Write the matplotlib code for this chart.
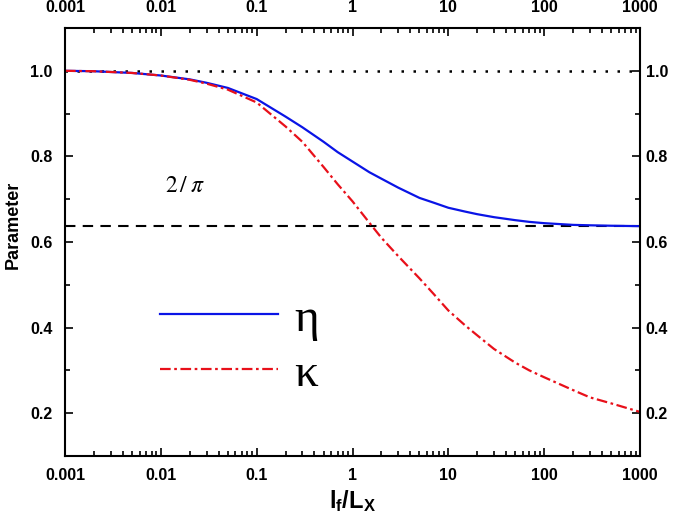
import numpy as np
import matplotlib
matplotlib.use('Agg')
import matplotlib.pyplot as plt
from matplotlib.ticker import FixedLocator, FixedFormatter, MultipleLocator, LogLocator, NullFormatter

# === Data ===
lf_Lx = [0.001, 0.002, 0.005, 0.01, 0.02, 0.03, 0.05, 0.1, 0.2, 0.3, 0.5, 0.7,
         1, 1.5, 2, 3, 5, 7, 10, 15, 20, 30, 50, 70, 100, 200, 300, 500, 1000]
eta = [1.0, 0.999, 0.995, 0.989, 0.980, 0.972, 0.960, 0.934, 0.893, 0.868,
       0.834, 0.810, 0.788, 0.763, 0.748, 0.727, 0.703, 0.692, 0.680, 0.671,
       0.665, 0.658, 0.651, 0.647, 0.644, 0.640, 0.639, 0.638, 0.637]
kappa = [1.0, 0.999, 0.995, 0.989, 0.979, 0.970, 0.956, 0.926, 0.870, 0.834,
         0.775, 0.735, 0.695, 0.645, 0.610, 0.567, 0.515, 0.479, 0.440, 0.405,
         0.382, 0.350, 0.318, 0.300, 0.284, 0.254, 0.237, 0.223, 0.203]

limit_one = 1.0
limit_2pi = 2 / np.pi

x_ticks = [0.001, 0.01, 0.1, 1, 10, 100, 1000]
x_tick_labels = ['0.001', '0.01', '0.1', '1', '10', '100', '1000']
y_ticks = [0.2, 0.4, 0.6, 0.8, 1.0]
y_tick_labels = ['0.2', '0.4', '0.6', '0.8', '1.0']

# === Style ===
plt.rcParams['font.family'] = ['Liberation Sans', 'DejaVu Sans']
plt.rcParams['mathtext.fontset'] = 'custom'
plt.rcParams['mathtext.bf'] = 'Liberation Sans:bold'
plt.rcParams['mathtext.rm'] = 'Liberation Sans:bold'

fig = plt.figure(figsize=(6.75, 5.2), dpi=100)
ax = fig.add_axes([65 / 675, 64 / 520, 575 / 675, 428 / 520])

ax.axhline(limit_one, color='black', lw=1.8, linestyle=(0, (1, 3.8)))
ax.axhline(limit_2pi, color='black', lw=1.5, linestyle=(0, (5, 3.5)))

ax.plot(lf_Lx, eta, color='#0a14e6', lw=1.6, label='η')
ax.plot(lf_Lx, kappa, color='#e8101a', lw=1.6, linestyle=(0, (4.8, 1.6, 1.2, 1.6)), label='κ')

ax.set_xscale('log')
ax.set_xlim(0.001, 1000)
ax.set_ylim(0.1, 1.1)

ax.xaxis.set_major_locator(FixedLocator(x_ticks))
ax.xaxis.set_major_formatter(FixedFormatter(x_tick_labels))
ax.xaxis.set_minor_locator(LogLocator(base=10, subs=np.arange(2, 10)))
ax.xaxis.set_minor_formatter(NullFormatter())
ax.yaxis.set_major_locator(FixedLocator(y_ticks))
ax.yaxis.set_major_formatter(FixedFormatter(y_tick_labels))
ax.yaxis.set_minor_locator(MultipleLocator(0.1))

ax.tick_params(which='both', direction='in', top=True, right=True,
               labeltop=True, labelright=True, width=1.2)
ax.tick_params(which='major', length=6)
ax.tick_params(which='minor', length=3.5)
ax.tick_params(axis='x', which='major', pad=9)
ax.tick_params(axis='y', which='major', pad=9)
for t in ax.xaxis.get_major_ticks() + ax.yaxis.get_major_ticks():
    for lab in (t.label1, t.label2):
        lab.set_fontweight('bold')
        lab.set_fontsize(11.5)
# right-hand labels sit closer to the spine
for t in ax.yaxis.get_major_ticks():
    t.label2.set_x(1.0)
    t.label2.set_transform(ax.get_yaxis_transform() +
                           matplotlib.transforms.ScaledTranslation(4 / 72, 0, fig.dpi_scale_trans))

for sp in ax.spines.values():
    sp.set_linewidth(1.5)

ax.set_ylabel('Parameter', fontsize=13, fontweight='bold')
ax.yaxis.set_label_coords(-0.076, 0.54)
ax.set_xlabel(r'$\mathbf{l_f/L_X}$', fontsize=17, labelpad=3)

ax.text(0.174, 0.631, r'$2\,/\;\pi$', transform=ax.transAxes, fontsize=17,
        math_fontfamily='stix', ha='left', va='center')

ax.legend(loc='center left', bbox_to_anchor=(0.165, 0.255), frameon=False,
          prop={'family': 'Liberation Serif', 'size': 34},
          handlelength=2.5, handletextpad=0.35, labelspacing=0.25,
          borderpad=0, borderaxespad=0)

fig.savefig('out.png', dpi=100)
